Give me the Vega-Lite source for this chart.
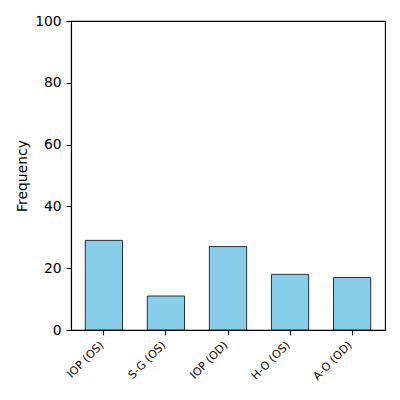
{
  "$schema": "https://vega.github.io/schema/vega-lite/v6.json",
  "width": 314,
  "height": 309,
  "autosize": {"type": "none"},
  "padding": {"left": 71, "top": 21, "right": 15, "bottom": 70},
  "background": "white",
  "config": {
    "font": "DejaVu Sans",
    "view": {"stroke": "black", "strokeWidth": 1.1},
    "axis": {
      "grid": false,
      "domainColor": "black",
      "tickColor": "black",
      "labelColor": "black",
      "titleColor": "black",
      "tickSize": 4.9,
      "domainWidth": 1.1,
      "tickWidth": 1.1,
      "labelFont": "DejaVu Sans",
      "titleFont": "DejaVu Sans"
    }
  },
  "data": {
    "values": [
      {"category": "IOP (OS)", "frequency": 29},
      {"category": "S-G (OS)", "frequency": 11},
      {"category": "IOP (OD)", "frequency": 27},
      {"category": "H-O (OS)", "frequency": 18},
      {"category": "A-O (OD)", "frequency": 17}
    ]
  },
  "mark": {"type": "bar", "color": "#87CEEB", "stroke": "black", "strokeWidth": 0.8},
  "encoding": {
    "x": {
      "field": "category",
      "type": "nominal",
      "sort": null,
      "scale": {"paddingInner": 0.4, "paddingOuter": 0.23},
      "axis": {
        "title": null,
        "labelAngle": -45,
        "labelAlign": "right",
        "labelBaseline": "top",
        "labelFontSize": 11,
        "labelPadding": 4,
        "labelOffset": -6
      }
    },
    "y": {
      "field": "frequency",
      "type": "quantitative",
      "scale": {"domain": [0, 100], "nice": false},
      "axis": {
        "title": "Frequency",
        "titleFontSize": 13.9,
        "titleFontWeight": "normal",
        "labelFontSize": 13.9,
        "labelPadding": 4.9,
        "values": [0, 20, 40, 60, 80, 100],
        "titlePadding": 5
      }
    }
  }
}
